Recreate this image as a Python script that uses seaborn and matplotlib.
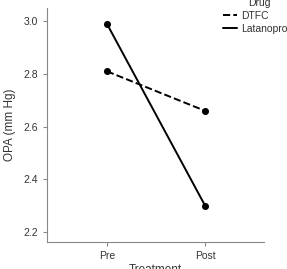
import matplotlib.pyplot as plt
import pandas as pd
import seaborn as sns
from matplotlib.lines import Line2D

treatment = ["Pre", "Post"]
drugs = ["DTFC", "Latanoprost"]
dtfc = [2.81, 2.66]
latanoprost = [2.99, 2.30]

df = pd.DataFrame(
    {
        "Treatment": treatment * 2,
        "OPA": dtfc + latanoprost,
        "Drug": [drugs[0]] * 2 + [drugs[1]] * 2,
    }
)

sns.set_style("ticks")
plt.rcParams["font.family"] = ["Liberation Sans", "DejaVu Sans"]
grey = "#888888"
txt = "#333333"

fig = plt.figure(figsize=(2.87, 2.69), dpi=100)
ax = fig.add_axes([0.164, 0.100, 0.756, 0.870])

sns.pointplot(
    data=df, x="Treatment", y="OPA", hue="Drug",
    order=treatment, hue_order=drugs,
    palette=["black", "black"], linestyles=["--", "-"],
    markers="o", markersize=4, linewidth=1.4, errorbar=None, ax=ax,
)
ax.get_legend().remove()

ax.set_xlim(-0.61, 1.6)
ax.set_ylim(2.162, 3.05)
ax.set_yticks([2.2, 2.4, 2.6, 2.8, 3.0])
ax.set_yticklabels(["2.2", "2.4", "2.6", "2.8", "3.0"])
sns.despine(ax=ax)
for side in ["left", "bottom"]:
    ax.spines[side].set_color(grey)
    ax.spines[side].set_linewidth(0.8)
ax.tick_params(colors=grey, labelcolor=txt, labelsize=7.5, length=3, width=0.8)

ax.set_xlabel("Treatment", fontsize=8.5, color=txt, labelpad=2)
ax.set_ylabel("OPA (mm Hg)", fontsize=8.5, color=txt, labelpad=5)

# legend shows line style only, no markers
handles = [
    Line2D([], [], color="black", linestyle="--", linewidth=1.4),
    Line2D([], [], color="black", linestyle="-", linewidth=1.4),
]
leg = fig.legend(
    handles, drugs, title="Drug", loc="upper left",
    bbox_to_anchor=(0.752, 1.035), frameon=False, fontsize=7.5, title_fontsize=7.5,
    handlelength=1.3, handletextpad=0.4, labelspacing=0.3, borderpad=0.2,
)
for t in leg.get_texts():
    t.set_color(txt)
leg.get_title().set_color(txt)

fig.savefig("out.png", dpi=100)
